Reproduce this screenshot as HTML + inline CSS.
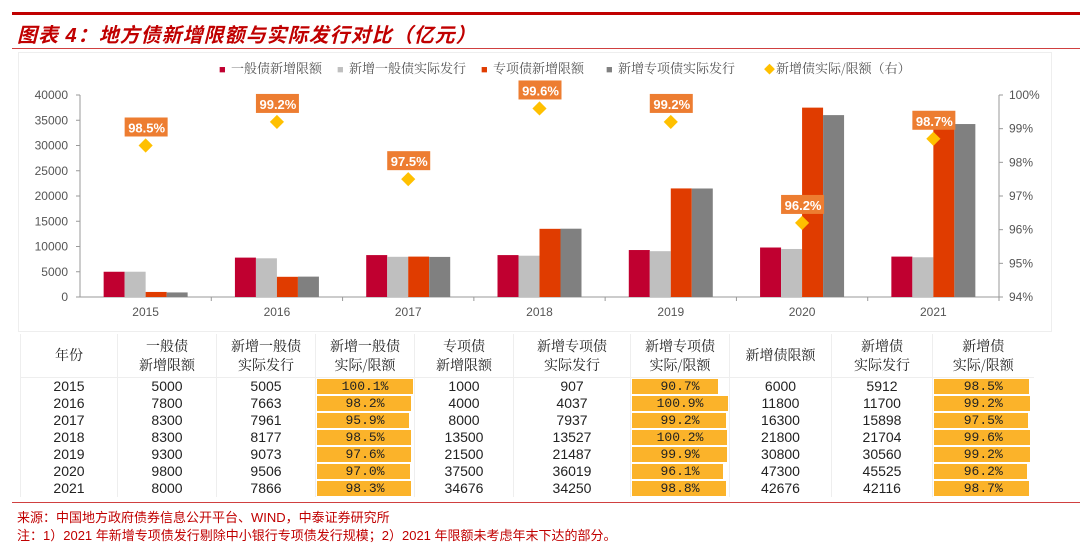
<!DOCTYPE html>
<html><head><meta charset="utf-8"><style>
body{margin:0;width:1080px;height:552px;background:#fff;font-family:"Liberation Sans","Noto Sans CJK SC",sans-serif;position:relative;overflow:hidden}
.abs{position:absolute}
table{border-collapse:collapse;position:absolute;left:20px;top:334px;table-layout:fixed;font-size:14px;color:#222}
td{padding:0;text-align:center;height:17px;line-height:17px;position:relative;border-left:1px solid #eee;overflow:hidden}
th{font-weight:normal;font-family:"Noto Serif CJK SC","Noto Sans CJK SC",serif;font-size:14px;line-height:19px;height:41px;border-left:1px solid #eee;border-bottom:1px solid #eee;color:#222}
.db{position:absolute;left:1px;top:1px;bottom:1px;background:#fbb32a;z-index:0}
.db+span{position:relative;display:block;height:17px;line-height:17px;z-index:1;font-family:"Liberation Mono",monospace;font-size:13px}
</style></head><body>
<div class="abs" style="left:12px;top:12px;width:1068px;height:3px;background:#c00000"></div>
<div class="abs" style="left:17px;top:19px;font-size:20px;font-style:italic;font-weight:bold;color:#c00000;font-family:'Liberation Sans','Noto Sans CJK SC',sans-serif;letter-spacing:1px">图表 4：地方债新增限额与实际发行对比（亿元）</div>
<div class="abs" style="left:12px;top:48px;width:1068px;height:1px;background:#d04040"></div>
<div class="abs" style="left:18px;top:52px;width:1032px;height:278px;border:1px solid #eee"></div>
<svg class="abs" style="left:0;top:0" width="1080" height="340" id="chart"></svg>
<table id="tbl">
<colgroup><col style="width:97px"><col style="width:99px"><col style="width:99px"><col style="width:99px"><col style="width:99px"><col style="width:117px"><col style="width:99px"><col style="width:102px"><col style="width:101px"><col style="width:101px"></colgroup>
<tr><th>年份</th><th>一般债<br>新增限额</th><th>新增一般债<br>实际发行</th><th>新增一般债<br>实际/限额</th><th>专项债<br>新增限额</th><th>新增专项债<br>实际发行</th><th>新增专项债<br>实际/限额</th><th>新增债限额</th><th>新增债<br>实际发行</th><th>新增债<br>实际/限额</th></tr>
</table>
<div class="abs" style="left:12px;top:502px;width:1068px;height:1px;background:#d04040"></div>
<div class="abs" style="left:17px;top:507px;font-size:13px;color:#c00000">来源：中国地方政府债券信息公开平台、WIND，中泰证券研究所</div>
<div class="abs" style="left:17px;top:525px;font-size:13px;color:#c00000">注：1）2021 年新增专项债发行剔除中小银行专项债发行规模；2）2021 年限额未考虑年末下达的部分。</div>
<script>
const years=['2015','2016','2017','2018','2019','2020','2021'];
const genLimit=[5000,7800,8300,8300,9300,9800,8000];
const genIssued=[5005,7663,7961,8177,9073,9506,7866];
const genRatio=[100.1,98.2,95.9,98.5,97.6,97.0,98.3];
const spLimit=[1000,4000,8000,13500,21500,37500,34676];
const spIssued=[907,4037,7937,13527,21487,36019,34250];
const spRatio=[90.7,100.9,99.2,100.2,99.9,96.1,98.8];
const totLimit=[6000,11800,16300,21800,30800,47300,42676];
const totIssued=[5912,11700,15898,21704,30560,45525,42116];
const totRatio=[98.5,99.2,97.5,99.6,99.2,96.2,98.7];
const leftTicks=[0,5000,10000,15000,20000,25000,30000,35000,40000];
const rightTicks=[94,95,96,97,98,99,100];
const NS='http://www.w3.org/2000/svg';
const svg=document.getElementById('chart');
const X0=80,X1=999,YT=95,YB=297;
const cw=(X1-X0)/years.length;
const y=v=>YB-(v/40000)*(YB-YT);
const yr=v=>YB-((v-94)/6)*(YB-YT);
const cx=i=>X0+cw*(i+0.5);
function mk(t,a,txt){const e=document.createElementNS(NS,t);for(const k in a)e.setAttribute(k,a[k]);if(txt!=null)e.textContent=txt;svg.appendChild(e);return e;}
let e;
e=mk('line',{x1:X0,y1:YT,x2:X0,y2:YB,stroke:'#999'});


e=mk('line',{x1:X1,y1:YT,x2:X1,y2:YB,stroke:'#999'});


e=mk('line',{x1:X0,y1:YB,x2:X1,y2:YB,stroke:'#999'});


leftTicks.forEach(v=>{mk('line',{x1:X0-4,y1:y(v),x2:X0,y2:y(v),stroke:'#999'});
e=mk('text',{x:X0-12,y:y(v)+4,'text-anchor':'end','font-size':12,fill:'#555'},v);

});
rightTicks.forEach(v=>{mk('line',{x1:X1,y1:yr(v),x2:X1+4,y2:yr(v),stroke:'#999'});
e=mk('text',{x:X1+10,y:yr(v)+4,'font-size':12,fill:'#555'},v+'%');

});
const series=[[genLimit,'#c00030'],[genIssued,'#bfbfbf'],[spLimit,'#e03c00'],[spIssued,'#808080']];
years.forEach((yy,i)=>{
 mk('line',{x1:X0+cw*(i+1),y1:YB,x2:X0+cw*(i+1),y2:YB+4,stroke:'#999'});
 e=mk('text',{x:cx(i),y:YB+19,'text-anchor':'middle','font-size':12,fill:'#555'},yy);
 
 
 series.forEach((s,k)=>{const v=s[0][i];
  e=mk('rect',{x:cx(i)-42+k*21,y:y(v),width:21,height:YB-y(v),fill:s[1]});
  
  });
});
years.forEach((yy,i)=>{
 const py=yr(totRatio[i]),px=cx(i);
 e=mk('rect',{x:px-5,y:py-5,width:10,height:10,fill:'#ffc000',transform:`rotate(45 ${px} ${py})`});
 
 
 e=mk('rect',{x:px-21,y:py-28,width:43,height:19,fill:'#ed7d31'});
 
 
 e=mk('text',{x:px+1,y:py-13,'text-anchor':'middle','font-size':13,'font-weight':'bold',fill:'#fff'},totRatio[i].toFixed(1)+'%');
 
 
});
const leg=[['■','#c00030','一般债新增限额',219],['■','#bfbfbf','新增一般债实际发行',337],['■','#e03c00','专项债新增限额',481],['■','#808080','新增专项债实际发行',606],['◆','#ffc000','新增债实际/限额（右）',764]];
leg.forEach(l=>{
 e=mk('text',{x:l[3],y:73,'font-size':11,fill:l[1]},l[0]);
 
 
 e=mk('text',{x:l[3]+12,y:73,'font-size':13,fill:'#555','font-family':'"Noto Serif CJK SC",serif'},l[2]);
 
 
});
const tbl=document.getElementById('tbl');
const cols=[years,genLimit,genIssued,genRatio,spLimit,spIssued,spRatio,totLimit,totIssued,totRatio];
years.forEach((yy,i)=>{
 const tr=document.createElement('tr');
 
 
 cols.forEach((c,k)=>{const td=document.createElement('td');
  if(k===3||k===6||k===9){const mx=Math.max(...c);const d=document.createElement('div');d.className='db';d.style.width=(c[i]/mx*96)+'px';td.appendChild(d);const s=document.createElement('span');s.textContent=c[i].toFixed(1)+'%';td.appendChild(s);}
  else td.textContent=c[i];
  tr.appendChild(td);});
 tbl.appendChild(tr);
});
</script>
</body></html>
